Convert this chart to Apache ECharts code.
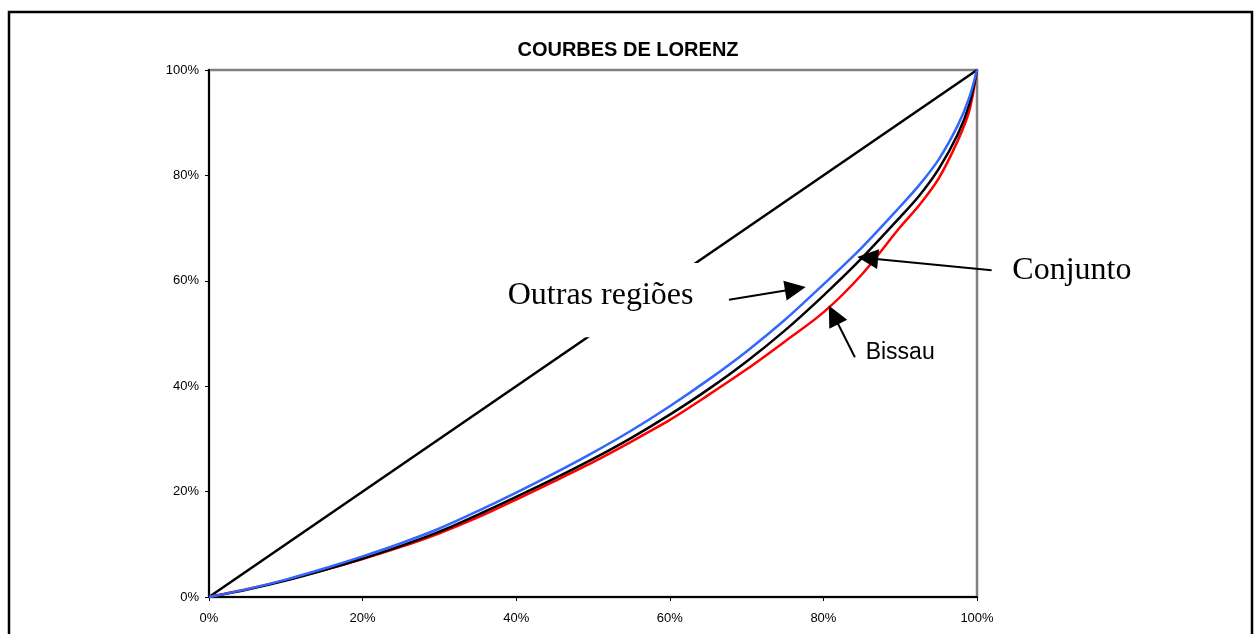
<!DOCTYPE html>
<html>
<head>
<meta charset="utf-8">
<script src="https://cdn.jsdelivr.net/npm/echarts@6/dist/echarts.min.js"></script>
<style>
  html, body { margin: 0; padding: 0; background: #fff; }
</style>
</head>
<body>
<div id="main" style="width:1256px;height:634px"></div>
<script>
// share of population (%)
const P = [0, 5, 10, 15, 20, 25, 30, 35, 40, 45, 50, 55, 60, 65, 70, 75, 80, 85, 90, 92.5, 95, 97.5, 99, 100];
// share of income (%)
const OUTRAS = [0, 1.5, 3.3, 5.4, 7.7, 10.2, 13.0, 16.3, 19.8, 23.5, 27.4, 31.6, 36.2, 41.2, 46.6, 52.6, 59.3, 66.3, 74.1, 78.2, 83.0, 89.5, 94.8, 100];
const CONJUNTO = [0, 1.4, 3.1, 5.1, 7.3, 9.7, 12.4, 15.6, 19.0, 22.5, 26.2, 30.2, 34.6, 39.4, 44.7, 50.6, 57.2, 64.3, 72.1, 76.2, 81.2, 87.8, 93.5, 100];
const BISSAU = [0, 1.5, 3.2, 5.1, 7.2, 9.5, 12.1, 15.1, 18.5, 22.0, 25.6, 29.5, 33.6, 38.3, 43.2, 48.5, 54.0, 61.2, 70.2, 74.4, 79.4, 86.6, 92.3, 100];
const EGALITE = [[0, 0], [100, 100]];

// annotations in data units: [fromX, fromY, tipX, tipY]
const ARROWS = [
  [67.7, 56.4, 77.7, 58.8],
  [101.9, 62.0, 84.4, 64.5],
  [84.1, 45.5, 80.7, 55.3]
];

var chartDom = document.getElementById('main');
var myChart = echarts.init(chartDom);

const pairs = (ys) => P.map((p, i) => [p, ys[i]]);

const axisLabel = {
  fontFamily: 'Liberation Sans, Arial, sans-serif',
  fontSize: 13,
  color: '#000',
  formatter: '{value}%'
};

let option = {
  animation: false,
  backgroundColor: '#fff',
  title: {
    text: 'COURBES DE LORENZ',
    left: 'center',
    top: 35,
    textStyle: {
      fontFamily: 'Liberation Sans, Arial, sans-serif',
      fontSize: 20,
      fontWeight: 'bold',
      color: '#000'
    }
  },
  grid: {
    left: 209,
    top: 70,
    width: 768,
    height: 527,
    show: true,
    borderColor: '#808080',
    borderWidth: 2.5,
    backgroundColor: '#fff'
  },
  xAxis: {
    type: 'value',
    min: 0,
    max: 100,
    interval: 20,
    axisLine: { show: true, onZero: false, lineStyle: { color: '#000', width: 2 } },
    axisTick: { show: true, length: 4, lineStyle: { color: '#000' } },
    splitLine: { show: false },
    axisLabel: Object.assign({ margin: 15 }, axisLabel)
  },
  yAxis: {
    type: 'value',
    min: 0,
    max: 100,
    interval: 20,
    axisLine: { show: true, onZero: false, lineStyle: { color: '#000', width: 2 } },
    axisTick: { show: true, length: 4, lineStyle: { color: '#000' } },
    splitLine: { show: false },
    axisLabel: Object.assign({ margin: 10 }, axisLabel)
  },
  series: [
    {
      name: 'Egalité',
      type: 'line',
      data: EGALITE,
      symbol: 'none',
      lineStyle: { color: '#000', width: 2.5 }
    },
    {
      name: 'Bissau',
      type: 'line',
      data: pairs(BISSAU),
      symbol: 'none',
      smooth: 0.3,
      lineStyle: { color: '#ff0000', width: 2.5 }
    },
    {
      name: 'Conjunto',
      type: 'line',
      data: pairs(CONJUNTO),
      symbol: 'none',
      smooth: 0.3,
      lineStyle: { color: '#000', width: 2.5 }
    },
    {
      name: 'Outras regiões',
      type: 'line',
      data: pairs(OUTRAS),
      symbol: 'none',
      smooth: 0.3,
      lineStyle: { color: '#3366ff', width: 2.5 }
    }
  ]
};

myChart.setOption(option);

// annotations: text boxes and arrows, placed through the axes
const px = (x, y) => myChart.convertToPixel({ gridIndex: 0 }, [x, y]);

function arrow(a) {
  const s = px(a[0], a[1]);
  const t = px(a[2], a[3]);
  const dx = t[0] - s[0], dy = t[1] - s[1];
  const len = Math.sqrt(dx * dx + dy * dy);
  const ux = dx / len, uy = dy / len;
  const L = 21, W = 10;
  const bx = t[0] - ux * L, by = t[1] - uy * L;
  return [
    {
      type: 'line', z: 20,
      shape: { x1: s[0], y1: s[1], x2: bx + ux * 2, y2: by + uy * 2 },
      style: { stroke: '#000', lineWidth: 2 }
    },
    {
      type: 'polygon', z: 20,
      shape: { points: [t, [bx - uy * W, by + ux * W], [bx + uy * W, by - ux * W]] },
      style: { fill: '#000' }
    }
  ];
}

const boxA = px(37.9, 63.4);
const boxB = px(63.9, 49.3);
const tOutras = px(38.9, 57.1);
const tConj = px(104.6, 62.0);
const tBiss = px(85.5, 46.3);

let graphic = [
  {
    type: 'rect', z: 15,
    shape: { x: boxA[0], y: boxA[1], width: boxB[0] - boxA[0], height: boxB[1] - boxA[1] },
    style: { fill: '#fff' }
  },
  {
    type: 'text', z: 20, x: tOutras[0], y: tOutras[1],
    style: { text: 'Outras regiões', fill: '#000', font: '32px "Liberation Serif", "Times New Roman", serif', textVerticalAlign: 'middle', verticalAlign: 'middle' }
  },
  {
    type: 'text', z: 20, x: tConj[0], y: tConj[1],
    style: { text: 'Conjunto', fill: '#000', font: '32px "Liberation Serif", "Times New Roman", serif', textVerticalAlign: 'middle', verticalAlign: 'middle' }
  },
  {
    type: 'text', z: 20, x: tBiss[0], y: tBiss[1],
    style: { text: 'Bissau', fill: '#000', font: '23px "Liberation Sans", Arial, sans-serif', textVerticalAlign: 'middle', verticalAlign: 'middle' }
  },
  {
    type: 'rect', z: 30, silent: true,
    shape: { x: 9, y: 12, width: 1243, height: 640 },
    style: { fill: 'none', stroke: '#000', lineWidth: 2.5 }
  }
];
ARROWS.forEach(a => { graphic = graphic.concat(arrow(a)); });

myChart.setOption({ graphic: graphic });
</script>
</body>
</html>
